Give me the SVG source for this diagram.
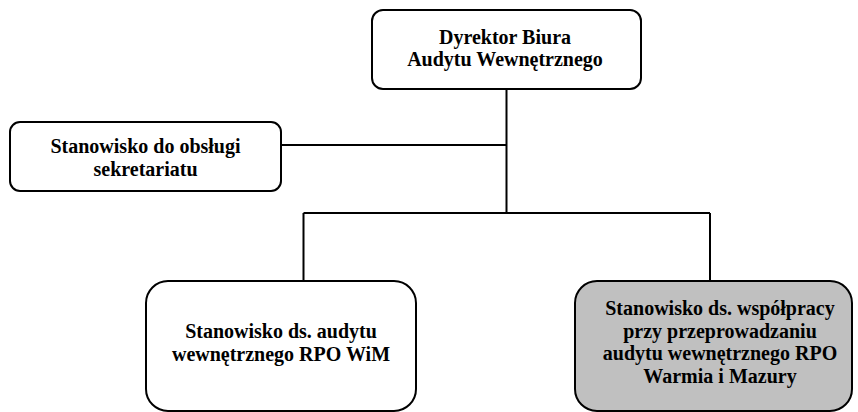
<svg xmlns="http://www.w3.org/2000/svg" width="858" height="412" viewBox="0 0 858 412">
<style>
.box{fill:#fff;stroke:#000;stroke-width:2}
.gray{fill:#c0c0c0}
.t{font-family:"Liberation Serif","Times New Roman",serif;font-weight:bold;font-size:20px;fill:#000;text-anchor:middle}
.c{fill:none;stroke:#000;stroke-width:2}
</style>
<rect width="858" height="412" fill="#fff"/>
<g id="connectors">
<path class="c" d="M506.5 89V213M281 145H506.5M303.5 213H710M303.5 213V281M710 213V281"/>
</g>
<g id="dyrektor">
<rect class="box" x="372" y="10" width="269" height="79" rx="11"/>
<text class="t" x="505" y="44">Dyrektor Biura</text>
<text class="t" x="505" y="66">Audytu Wewnętrznego</text>
</g>
<g id="sekretariat">
<rect class="box" x="10" y="122" width="271" height="69" rx="10"/>
<text class="t" x="145.5" y="153">Stanowisko do obsługi</text>
<text class="t" x="145.5" y="175.5">sekretariatu</text>
</g>
<g id="audyt">
<rect class="box" x="146" y="281" width="270" height="130" rx="22"/>
<text class="t" x="281" y="338">Stanowisko ds. audytu</text>
<text class="t" x="281" y="360.5">wewnętrznego RPO WiM</text>
</g>
<g id="wspolpraca">
<rect class="box gray" x="575" y="281" width="277" height="130" rx="22"/>
<text class="t" x="720" y="315">Stanowisko ds. współpracy</text>
<text class="t" x="720" y="337.5">przy przeprowadzaniu</text>
<text class="t" x="720" y="360">audytu wewnętrznego RPO</text>
<text class="t" x="720" y="382.5">Warmia i Mazury</text>
</g>
</svg>
